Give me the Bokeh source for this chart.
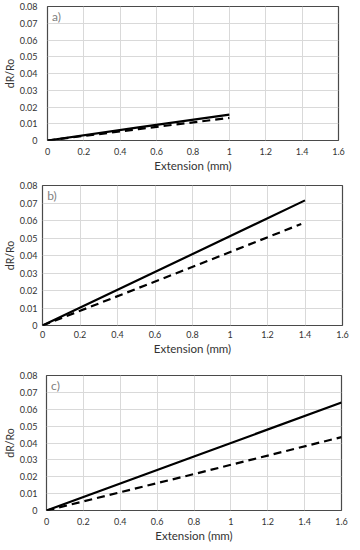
from bokeh.plotting import figure
from bokeh.layouts import column, row
from bokeh.models import Range1d, FixedTicker, Label
from bokeh.embed import file_html
from bokeh.resources import INLINE

# ---- data ----
x_ticks = [0, 0.2, 0.4, 0.6, 0.8, 1.0, 1.2, 1.4, 1.6]
x_labels = ["0", "0.2", "0.4", "0.6", "0.8", "1", "1.2", "1.4", "1.6"]
y_ticks = [0, 0.01, 0.02, 0.03, 0.04, 0.05, 0.06, 0.07, 0.08]
y_labels = ["0", "0.01", "0.02", "0.03", "0.04", "0.05", "0.06", "0.07", "0.08"]

a_solid_x = [0, 0.5, 1.0]
a_solid_y = [0, 0.0078, 0.0155]
a_dash_x = [0, 0.5, 1.0]
a_dash_y = [0, 0.0068, 0.0135]

b_solid_x = [0, 0.7, 1.4]
b_solid_y = [0, 0.0357, 0.0715]
b_dash_x = [0, 0.1, 0.7, 1.38]
b_dash_y = [0, 0.0042, 0.0293, 0.058]

c_solid_x = [0, 0.8, 1.6]
c_solid_y = [0, 0.032, 0.064]
c_dash_x = [0, 0.8, 1.6]
c_dash_y = [0, 0.0216, 0.0435]

panels = [
    ("a)", a_solid_x, a_solid_y, a_dash_x, a_dash_y),
    ("b)", b_solid_x, b_solid_y, b_dash_x, b_dash_y),
    ("c)", c_solid_x, c_solid_y, c_dash_x, c_dash_y),
]

# per panel: frame_w, frame_h, top, left, bottom, right, ylab_standoff, yaxis_standoff, xlab_standoff
geom = [
    (291, 134, 6, 45, 34, 8, 10, 1, 7),
    (300, 140, 11, 36, 28, 8, 5, 1, 5),
    (295, 135, 18, 41, 31, 8, 9, 1, 7),
]

FONT = "Lato"
figs = []
for (lab, sx, sy, dx, dy), (fw, fh, bt, bl, bb, br, yls, yas, xls) in zip(panels, geom):
    p = figure(frame_width=fw, frame_height=fh, output_backend="svg", toolbar_location=None,
               x_range=Range1d(0, 1.6), y_range=Range1d(0, 0.08),
               min_border_top=bt, min_border_left=bl, min_border_bottom=bb,
               min_border_right=br)
    p.outline_line_color = "#4a4a4a"
    p.outline_line_width = 1.2
    p.background_fill_color = "white"
    p.border_fill_color = "white"
    for ax in (p.xaxis[0], p.yaxis[0]):
        ax.axis_line_color = None
        ax.major_tick_line_color = None
        ax.minor_tick_line_color = None
        ax.major_tick_out = 0
        ax.major_tick_in = 0
        ax.major_label_text_font = FONT
        ax.major_label_text_font_size = "9px"
        ax.major_label_text_color = "#333333"
        ax.axis_label_text_font = FONT
        ax.axis_label_text_font_style = "normal"
        ax.axis_label_text_color = "#333333"
    p.xaxis.axis_label_text_font_size = "11.5px"
    p.yaxis.axis_label_text_font_size = "10.5px"
    p.xaxis.ticker = FixedTicker(ticks=x_ticks)
    p.xaxis.major_label_overrides = dict(zip(x_ticks, x_labels))
    p.yaxis.ticker = FixedTicker(ticks=y_ticks)
    p.yaxis.major_label_overrides = dict(zip(y_ticks, y_labels))
    p.xaxis.axis_label = "Extension (mm)"
    p.yaxis.axis_label = "dR/Ro"
    p.xaxis.major_label_standoff = xls
    p.xaxis.axis_label_standoff = 1
    p.yaxis.major_label_standoff = yls
    p.yaxis.axis_label_standoff = yas
    p.xgrid.grid_line_color = "#d9d9d9"
    p.ygrid.grid_line_color = "#d9d9d9"
    p.line(sx, sy, line_color="black", line_width=2.2)
    p.line(dx, dy, line_color="black", line_width=2.2, line_dash="8 5")
    p.add_layout(Label(x=0.025, y=0.0785, text=lab, text_font=FONT,
                       text_font_size="12px", text_color="#808080",
                       text_baseline="top"))
    figs.append(p)

layout = column(row(figs[0]), row(figs[1]), row(figs[2]), spacing=0)
open("out.html", "w").write(file_html(layout, INLINE))
